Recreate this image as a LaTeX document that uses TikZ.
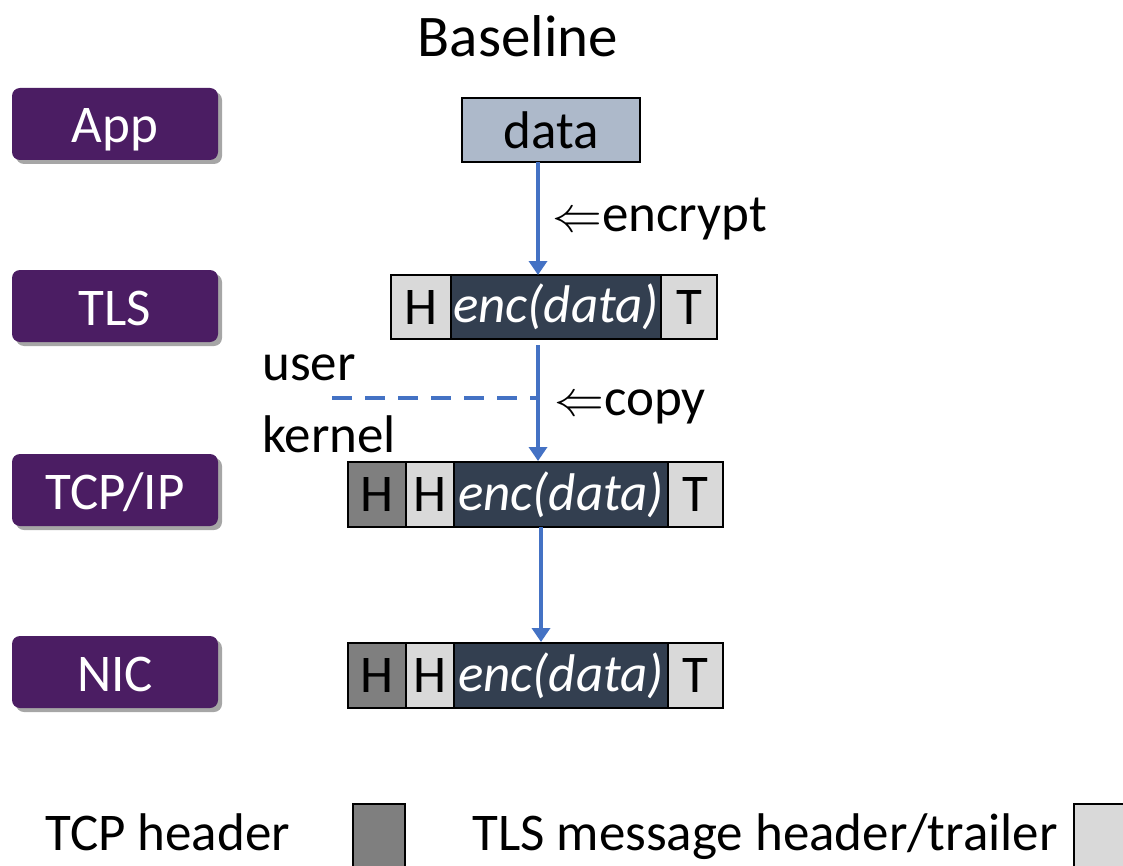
\documentclass[tikz,border=0pt]{standalone}
\usepackage{fontspec}
\setmainfont{Carlito}
\usetikzlibrary{positioning,arrows.meta,shadows,calc}
\definecolor{layerpurple}{RGB}{75,29,99}
\definecolor{datablue}{RGB}{173,185,202}
\definecolor{encnavy}{RGB}{51,63,80}
\definecolor{tlsgray}{RGB}{217,217,217}
\definecolor{tcpgray}{RGB}{127,127,127}
\definecolor{flowblue}{RGB}{68,114,196}
\tikzset{
  txt/.style={font=\fontsize{26.5}{30}\selectfont, inner sep=0pt},
  layer/.style={txt, fill=layerpurple, text=white, rounded corners=4pt, minimum width=103pt, minimum height=36pt,
    text height=19pt, text depth=0pt,
    drop shadow={shadow xshift=2pt, shadow yshift=-2pt, opacity=0.35, fill=black}},
  cell/.style={txt, draw=black, line width=1pt, outer sep=0pt, minimum height=32pt},
  tlshdr/.style={cell, fill=tlsgray},
  tcphdr/.style={cell, fill=tcpgray},
  payload/.style={cell, fill=encnavy, text=white, font=\fontsize{26.5}{30}\selectfont\itshape},
  flow/.style={draw=flowblue, line width=2pt, -{Triangle[width=9pt,length=7pt]}}
}
\begin{document}
\begin{tikzpicture}[x=0.5pt,y=-0.5pt]
   \useasboundingbox (0,0) rectangle (1123,866);
   \node[txt, font=\fontsize{29.5}{34}\selectfont] (title) at (518,36) {Baseline};
   \node[layer] (app) at (115,124) {App};
   \node[layer] (tls) at (115,306) {TLS};
   \node[layer] (tcp) at (115,490) {TCP/IP};
   \node[layer] (nic) at (115,672) {NIC};
   \node[cell, fill=datablue, minimum width=89pt] (data) at (551,130) {data};
   \node[tlshdr, minimum width=30pt] (tlsH) at (421,307) {H};
   \node[payload, minimum width=105pt, right=0pt of tlsH] (tlsE) {enc(data)};
   \node[tlshdr, minimum width=28pt, right=0pt of tlsE] (tlsT) {T};
   \node[tcphdr, minimum width=29pt, minimum height=32.5pt] (tcpH) at (377,494.5) {H};
   \node[tlshdr, minimum width=24pt, minimum height=32.5pt, right=0pt of tcpH] (tcpL) {H};
   \node[payload, minimum width=107pt, minimum height=32.5pt, right=0pt of tcpL] (tcpE) {enc(data)};
   \node[tlshdr, minimum width=27.5pt, minimum height=32.5pt, right=0pt of tcpE] (tcpT) {T};
   \node[tcphdr, minimum width=29pt, minimum height=32.5pt] (nicH) at (377,675.5) {H};
   \node[tlshdr, minimum width=24pt, minimum height=32.5pt, right=0pt of nicH] (nicL) {H};
   \node[payload, minimum width=107pt, minimum height=32.5pt, right=0pt of nicL] (nicE) {enc(data)};
   \node[tlshdr, minimum width=27.5pt, minimum height=32.5pt, right=0pt of nicE] (nicT) {T};
   \node[txt, anchor=base west] (enclbl) at (552,232) {$\Leftarrow$encrypt};
   \node[txt, anchor=base west] (user) at (262,380) {user};
   \node[txt, anchor=base west] (kernel) at (262,452) {kernel};
   \node[txt, anchor=base west] (copylbl) at (554,415) {$\Leftarrow$copy};
   \coordinate (split) at (332,398);
   \coordinate (copytop) at ($(tlsE.south)+(-18,6)$);
   \draw[flow] ([xshift=-6.5pt]data.south) -- ([xshift=-6.5pt]data.south |- tlsE.north);
   \draw[flow] (copytop) -- ($(copytop |- tcpE.north)+(0,-1)$);
   \draw[flowblue, line width=2pt, dash pattern=on 10pt off 6.5pt] (split) -- (split -| copytop);
   \draw[flow] ($(tcpE.south)+(-20,0)$) -- ($(tcpE.south |- nicE.north)+(-20,-1)$);
   \node[txt, anchor=base west] (tcpkey) at (45,850) {TCP header};
   \node[cell, fill=tcpgray, minimum width=26pt, minimum height=36pt] (tcpbox) at (379,840) {};
   \node[txt, anchor=base west] (tlskey) at (472,850) {TLS message header/trailer};
   \node[cell, fill=tlsgray, minimum width=28pt, minimum height=36pt, right=8pt of tlskey.east |- tcpbox] (tlsbox) {};
\end{tikzpicture}
\end{document}
